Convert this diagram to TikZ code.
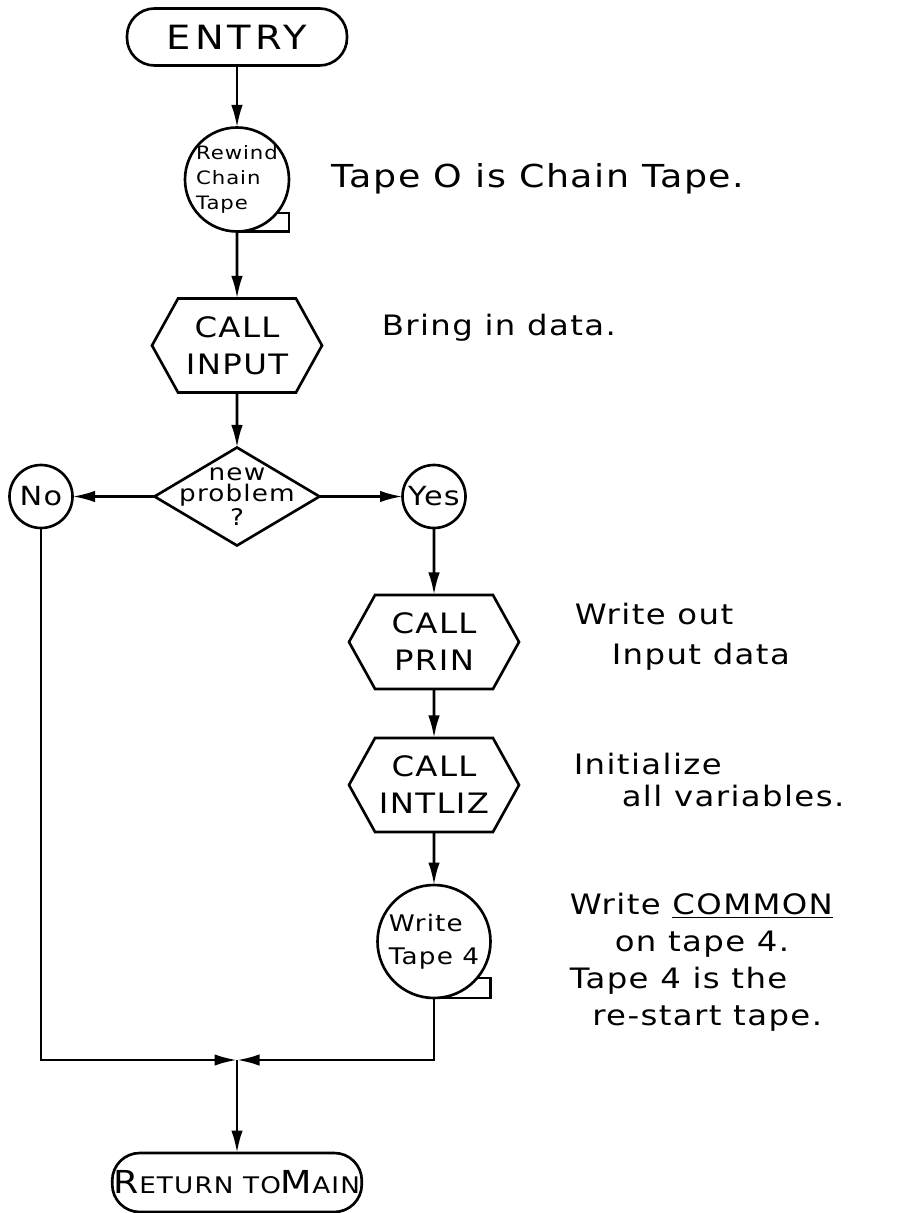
\documentclass[tikz,border=0pt]{standalone}
\usepackage{fontspec}
\setmainfont{DejaVu Sans}[FakeStretch=1.15, LetterSpace=5]
\usetikzlibrary{arrows.meta}
\usetikzlibrary{positioning,shapes}

\begin{document}
\begin{tikzpicture}[%
        every node/.style={draw, outer sep=0pt, inner sep=1pt, align=center},
        term/.style={rounded corners=0.55cm, minimum width=4.4cm, minimum height=1.14cm},
        tapebox/.style={circle, align=left, inner sep=-4pt},
        callbox/.style={signal, signal to=east and west, signal pointer angle=122,
                        minimum width=3.4cm, minimum height=1.88cm, font=\fontsize{16}{21}\selectfont},
        decision/.style={diamond, aspect=1.68, minimum width=3.3cm, minimum height=1.96cm, inner sep=-6pt,
                        font=\fontsize{13}{12}\selectfont},
        answer/.style={circle, minimum size=1.26cm, inner sep=0pt, font=\fontsize{15}{18}\selectfont},
        note/.style={draw=none, anchor=west, align=left, font=\fontsize{16}{21}\selectfont},
        line width=1.5pt, >={Latex[length=4.5mm,width=2.3mm]}
      ]
      \useasboundingbox (0,0) rectangle (17.98,-24.26);
      % main column
      \node [] (entry) [term, font=\fontsize{19}{22}\selectfont\addfontfeature{LetterSpace=12}] at (4.74,-0.74) {ENTRY};
      \node [] (rewind) [tapebox, below=1.24cm of entry, minimum size=2.08cm,
                         font=\fontsize{10.5}{14}\selectfont] {Rewind\\Chain\\Tape};
      \node [] (input) [callbox, below=1.34cm of rewind] {CALL\\INPUT};
      \node [] (newprob) [decision, below=1.1cm of input] {new\\problem\\?};
      \node [] (no) [answer, left=1.64cm of newprob] {No};
      \node [] (yes) [answer, right=1.66cm of newprob] {Yes};
      % yes branch
      \node [] (prin) [callbox, below=1.34cm of yes] {CALL\\PRIN};
      \node [] (intliz) [callbox, below=0.98cm of prin] {CALL\\INTLIZ};
      \node [] (writetape) [tapebox, below=1.06cm of intliz, minimum size=2.26cm,
                            font=\fontsize{13}{19}\selectfont] {Write\\Tape 4};
      \coordinate (join) at (4.74,-21.20);
      \node [] (ret) [term, below=1.86cm of join, minimum width=4.68cm, minimum height=1.18cm,
                      font=\fontsize{18}{20}\selectfont]
            {R{\fontsize{13}{16}\selectfont ETURN TO}M{\fontsize{13}{16}\selectfont AIN}};
      % tape tails
      \draw (rewind.south) -- (rewind.south -| rewind.east) |- (rewind.-40);
      \draw (writetape.south) -- (writetape.south -| writetape.east) |- (writetape.-40);
      \path [draw] (entry) edge[->] (rewind)
      (rewind) edge[->] (input)
      (input) edge[->] (newprob)
      (newprob) edge[->] (no)
      (newprob) edge[->] (yes)
      (yes) edge[->] (prin)
      (prin) edge[->] (intliz)
      (intliz) edge[->] (writetape)
      (join) edge[->] (ret);
      \draw [->] (no) |- (join);
      \draw [->] (writetape) |- (join);
      % remarks
      \node (n0) [note, font=\fontsize{18}{22}\selectfont] at (6.60,-3.58) {Tape O is Chain Tape.};
      \node (n1) [note] at (7.60,-6.56) {Bring in data.};
      \node (n2) [note, font=\fontsize{16}{22.7}\selectfont] at (11.46,-12.74)
            {Write out\\\hspace*{0.74cm}Input data};
      \node (n3) [note, font=\fontsize{16}{18.2}\selectfont] at (11.44,-15.60)
            {Initialize\\\hspace*{0.96cm}all variables.};
      \node (n4) [note] at (11.36,-19.24)
            {Write \underline{COMMON}\\\hspace*{0.9cm}on tape 4.\\Tape 4 is the\\\hspace*{0.45cm}re-start tape.};
    \end{tikzpicture}
\end{document}
